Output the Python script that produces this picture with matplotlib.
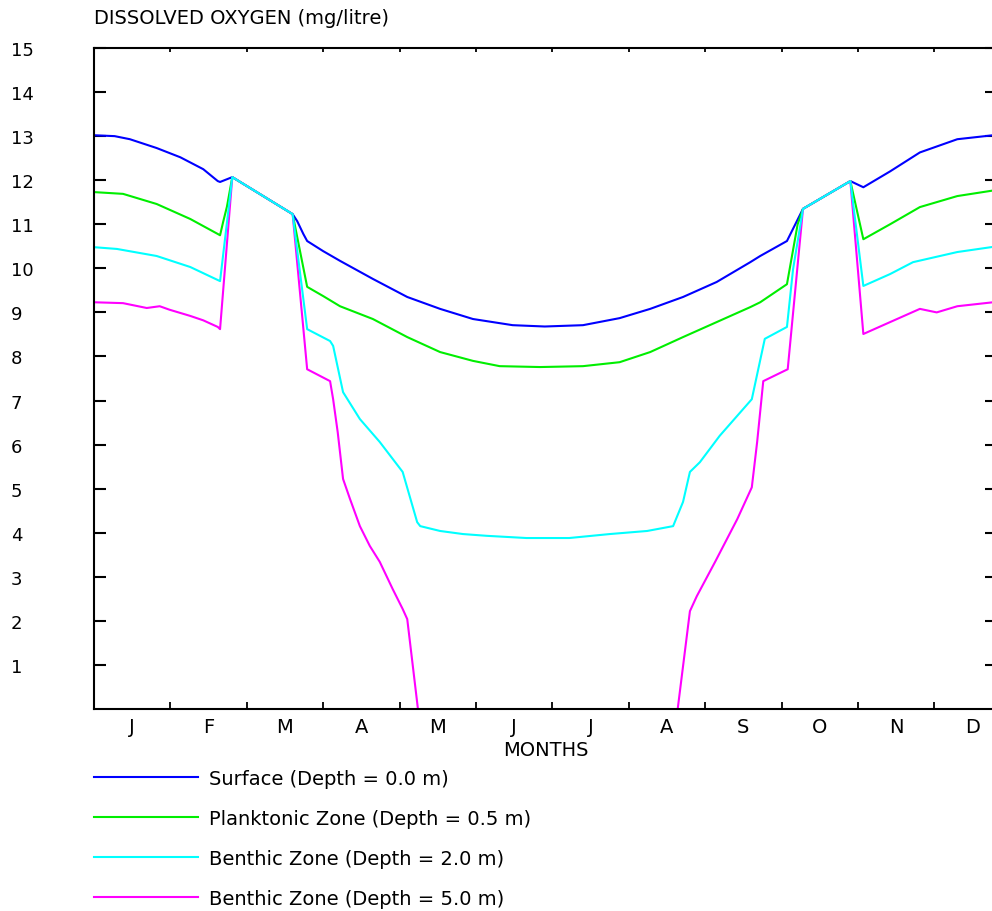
import numpy as np
import matplotlib
matplotlib.use("Agg")
import matplotlib.pyplot as plt

# ---- data (x in months from 1 Jan, y in mg/litre) ----
months = ['J', 'F', 'M', 'A', 'M', 'J', 'J', 'A', 'S', 'O', 'N', 'D']
y_ticks = list(range(1, 16))

surface_x = [0.00, 0.27, 0.47, 0.82, 1.13, 1.43, 1.62, 1.65, 1.81, 2.60, 2.66, 2.74, 2.79,
             3.00, 3.22, 3.65, 4.10, 4.53, 4.96, 5.48, 5.90, 6.40, 6.88, 7.28, 7.71, 8.15, 8.59,
             8.72, 9.07, 9.28, 9.90, 10.07, 10.42, 10.81, 11.30, 11.82]
surface_y = [13.02, 13.00, 12.93, 12.73, 12.52, 12.25, 11.98, 11.96, 12.07, 11.23, 11.07, 10.78, 10.62,
             10.39, 10.17, 9.76, 9.35, 9.08, 8.85, 8.71, 8.68, 8.71, 8.87, 9.08, 9.35, 9.69, 10.14,
             10.28, 10.62, 11.35, 11.98, 11.84, 12.20, 12.63, 12.93, 13.03]

plank_x = [0.00, 0.38, 0.82, 1.26, 1.62, 1.65, 1.69, 1.74, 1.81, 2.60, 2.79, 3.00, 3.22,
           3.65, 4.10, 4.53, 4.96, 5.31, 5.84, 6.40, 6.88, 7.28, 7.71, 8.15, 8.59, 8.72,
           9.07, 9.21, 9.28, 9.90, 10.07, 10.42, 10.81, 11.30, 11.82]
plank_y = [11.73, 11.69, 11.46, 11.12, 10.78, 10.75, 11.05, 11.40, 12.07, 11.23, 9.58, 9.37, 9.14,
           8.85, 8.44, 8.10, 7.90, 7.78, 7.76, 7.78, 7.87, 8.10, 8.44, 8.78, 9.12, 9.23,
           9.64, 11.00, 11.35, 11.98, 10.66, 11.00, 11.39, 11.64, 11.78]

benth2_x = [0.00, 0.30, 0.82, 1.26, 1.65, 1.81, 2.60, 2.79, 3.09, 3.13, 3.26, 3.48, 3.74,
            4.04, 4.23, 4.27, 4.53, 4.83, 5.14, 5.66, 6.22, 6.75, 7.24, 7.58, 7.71, 7.80,
            7.93, 8.19, 8.61, 8.78, 9.07, 9.15, 9.28, 9.90, 10.07, 10.42, 10.72, 11.30, 11.82]
benth2_y = [10.48, 10.44, 10.28, 10.03, 9.71, 12.07, 11.23, 8.62, 8.35, 8.24, 7.19, 6.58, 6.06,
            5.38, 4.24, 4.15, 4.04, 3.97, 3.93, 3.88, 3.88, 3.97, 4.04, 4.15, 4.70, 5.38,
            5.60, 6.20, 7.03, 8.40, 8.67, 9.98, 11.35, 11.98, 9.60, 9.87, 10.14, 10.37, 10.50]

benth5_x = [0.00, 0.38, 0.69, 0.86, 0.99, 1.26, 1.43, 1.62, 1.65, 1.81, 2.60, 2.79, 3.09,
            3.13, 3.19, 3.26, 3.35, 3.48, 3.61, 3.74, 3.91, 4.04, 4.10, 4.24, np.nan,
            7.64, 7.80, 7.89, 8.13, 8.42, 8.61, 8.68, 8.76, 9.08, 9.28, 9.90, 10.07,
            10.42, 10.81, 11.03, 11.30, 11.82]
benth5_y = [9.23, 9.21, 9.10, 9.14, 9.06, 8.92, 8.82, 8.67, 8.62, 12.07, 11.23, 7.71, 7.44,
            7.03, 6.28, 5.22, 4.77, 4.15, 3.70, 3.34, 2.72, 2.27, 2.04, 0.00, np.nan,
            0.00, 2.22, 2.56, 3.34, 4.31, 5.03, 6.06, 7.44, 7.71, 11.35, 11.98, 8.51,
            8.78, 9.08, 9.00, 9.14, 9.24]

labels = ['Surface (Depth = 0.0 m)', 'Planktonic Zone (Depth = 0.5 m)',
          'Benthic Zone (Depth = 2.0 m)', 'Benthic Zone (Depth = 5.0 m)']
colors = ['#0000ff', '#00ee00', '#00ffff', '#ff00ff']

# ---- figure ----
W, H = 992, 912
fig = plt.figure(figsize=(W / 100, H / 100), dpi=100)
px = 72 / 100  # points per pixel
L, R, T, B = 94, 997, 49, 710
ax = fig.add_axes([L / W, 1 - B / H, (R - L) / W, (B - T) / H])

lw = 1.5
l_s, = ax.plot(surface_x, surface_y, color=colors[0], lw=lw, zorder=2)
l_p, = ax.plot(plank_x, plank_y, color=colors[1], lw=lw, zorder=2.1)
l_5, = ax.plot(benth5_x, benth5_y, color=colors[3], lw=lw, zorder=2.2)
l_2, = ax.plot(benth2_x, benth2_y, color=colors[2], lw=lw, zorder=2.3)

ax.set_xlim(0, (R - L) / 76.4)
ax.set_ylim(0, 15)

for s in ax.spines.values():
    s.set_linewidth(1.5)
ax.spines['right'].set_visible(False)

fs = 14
fs_y = 13
# x ticks: boundaries as major ticks, month labels on minor ticks
ax.set_xticks(np.arange(1, 12))
ax.set_xticklabels([])
ax.set_xticks(np.arange(len(months)) + 0.5, minor=True)
ax.set_xticklabels(months, minor=True, fontsize=fs)
ax.tick_params(axis='x', which='major', direction='in', length=7 * px, width=1.3,
               top=True, bottom=True)
ax.tick_params(axis='x', which='minor', length=0, pad=6, labelsize=fs)
for t in ax.xaxis.get_major_ticks():
    t.tick2line.set_markersize(4 * px)

ax.set_yticks(y_ticks)
ax.set_yticklabels([str(v) for v in y_ticks], fontsize=fs_y)
ax.tick_params(axis='y', direction='in', length=12 * px, width=1.5, left=True, right=True,
               pad=(L - 11) * px)
for lab in ax.get_yticklabels():
    lab.set_horizontalalignment('left')

ax.set_xlabel('MONTHS', fontsize=fs, labelpad=2.5)
fig.text(L / W, 1 - 18 / H, 'DISSOLVED OXYGEN (mg/litre)', fontsize=fs,
         ha='left', va='center')

ax.legend([l_s, l_p, l_2, l_5], labels, loc='upper left',
          bbox_to_anchor=(L / W, 1 - 770 / H), bbox_transform=fig.transFigure,
          frameon=False, fontsize=fs, handlelength=5.35, handletextpad=0.57,
          labelspacing=1.08, borderpad=0, borderaxespad=0)

fig.savefig('out.png', dpi=100)
